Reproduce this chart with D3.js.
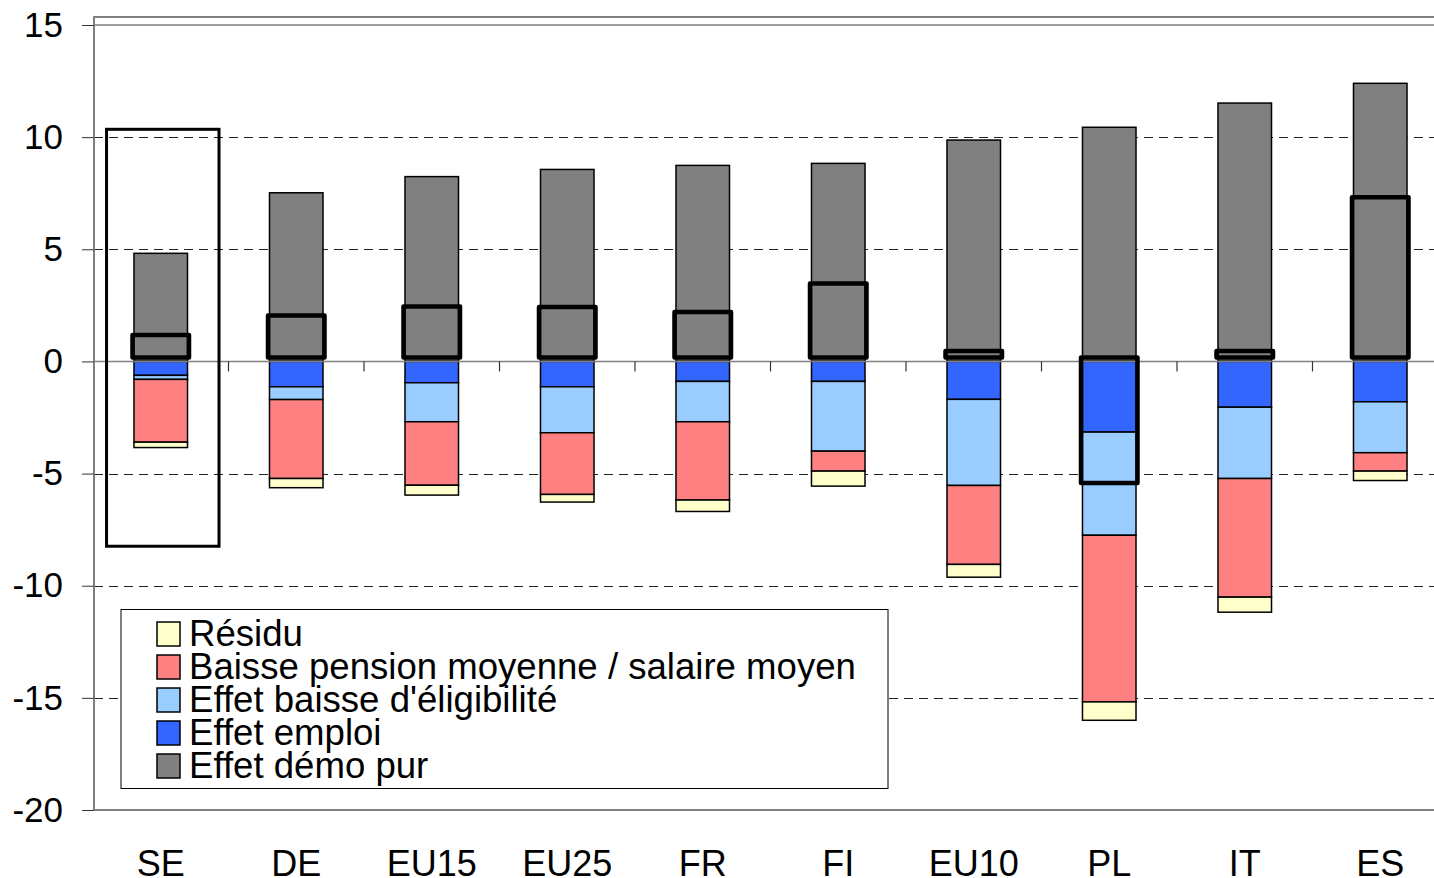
<!DOCTYPE html>
<html>
<head>
<meta charset="utf-8">
<script src="https://cdn.jsdelivr.net/npm/d3@7"></script>
<style>
  body { margin: 0; background: #fff; }
  svg { display: block; font-family: "Liberation Sans", Arial, sans-serif; }
</style>
</head>
<body>
<script>
// Data
var countries = ["SE", "DE", "EU15", "EU25", "FR", "FI", "EU10", "PL", "IT", "ES"];
var demo      = [4.82, 7.52, 8.24, 8.56, 8.74, 8.83, 9.87, 10.44, 11.52, 12.4];
var emploi    = [-0.62, -1.13, -0.95, -1.13, -0.89, -0.89, -1.69, -3.15, -2.04, -1.8];
var eligib    = [-0.18, -0.57, -1.74, -2.05, -1.8, -3.11, -3.84, -4.6, -3.18, -2.27];
var pension   = [-2.8, -3.52, -2.83, -2.75, -3.49, -0.89, -3.52, -7.43, -5.29, -0.82];
var residu    = [-0.24, -0.41, -0.44, -0.34, -0.51, -0.67, -0.57, -0.82, -0.67, -0.42];
// thick outlined bars (no fill)
var total     = [1.0, 1.87, 2.27, 2.25, 2.03, 3.3, 0.29, -5.6, 0.29, 7.14];
// highlight frame around SE
var highlight = { country: "SE", low: -8.24, high: 10.35 };
var yTicks = [-20, -15, -10, -5, 0, 5, 10, 15];

var legendItems = [
  { key: "residu",  label: "Résidu" },
  { key: "pension", label: "Baisse pension moyenne / salaire moyen" },
  { key: "eligib",  label: "Effet baisse d'éligibilité" },
  { key: "emploi",  label: "Effet emploi" },
  { key: "demo",    label: "Effet démo pur" }
];
var colors = {
  demo: "#808080", emploi: "#3366FF", eligib: "#99CCFF",
  pension: "#FF8080", residu: "#FFFFCC"
};

var W = 1434, H = 878;
var plotLeft = 94, plotTop = 17, plotBottom = 810;

var svg = d3.select("body").append("svg")
    .attr("width", W)
    .attr("height", H);

// Scales
var x = d3.scaleBand().domain(countries).range([93, 1448]);
var y = d3.scaleLinear().domain([-20, 15]).range([810, 25]);
var barW = x.bandwidth() * 0.395;

// Gridlines
svg.append("g").selectAll("line")
    .data(yTicks.filter(function (d) { return d !== 0 && d !== -20 && d !== 15; }))
    .join("line")
    .attr("x1", plotLeft).attr("x2", W)
    .attr("y1", function (d) { return Math.round(y(d)) + 0.5; })
    .attr("y2", function (d) { return Math.round(y(d)) + 0.5; })
    .attr("stroke", "#222")
    .attr("stroke-width", 1)
    .attr("stroke-dasharray", "9,6");

// solid line at top value
svg.append("line")
    .attr("x1", plotLeft).attr("x2", W)
    .attr("y1", y(15)).attr("y2", y(15))
    .attr("stroke", "#808080").attr("stroke-width", 1.5);

// Plot frame
svg.append("path")
    .attr("d", "M" + W + "," + plotTop + "H" + plotLeft + "V" + plotBottom + "H" + W)
    .attr("fill", "none")
    .attr("stroke", "#808080")
    .attr("stroke-width", 2);

// Stack
var rows = countries.map(function (c, i) {
  return { country: c, demo: demo[i], emploi: emploi[i], eligib: eligib[i],
           pension: pension[i], residu: residu[i] };
});
var stack = d3.stack()
    .keys(["demo", "emploi", "eligib", "pension", "residu"])
    .offset(d3.stackOffsetDiverging);
var series = stack(rows);

svg.append("g").selectAll("g")
    .data(series)
    .join("g")
    .attr("fill", function (s) { return colors[s.key]; })
    .selectAll("rect")
    .data(function (s) { return s; })
    .join("rect")
    .attr("x", function (d) { return x(d.data.country) + x.bandwidth() / 2 - barW / 2; })
    .attr("width", barW)
    .attr("y", function (d) { return y(Math.max(d[0], d[1])); })
    .attr("height", function (d) { return Math.abs(y(d[0]) - y(d[1])); })
    .attr("stroke", "#000")
    .attr("stroke-width", 1.5);

// Zero line with boundary ticks
svg.append("line")
    .attr("x1", plotLeft).attr("x2", W)
    .attr("y1", y(0)).attr("y2", y(0))
    .attr("stroke", "#808080").attr("stroke-width", 1.5);
svg.append("g").selectAll("line")
    .data(countries.slice(1))
    .join("line")
    .attr("x1", function (d) { return x(d); })
    .attr("x2", function (d) { return x(d); })
    .attr("y1", y(0)).attr("y2", y(0) + 10)
    .attr("stroke", "#333").attr("stroke-width", 1.2);

// Thick outlined bars
var boxW = barW + 3;
svg.append("g").attr("transform", "translate(0,-4)")
    .selectAll("rect")
    .data(countries)
    .join("rect")
    .attr("x", function (d) { return x(d) + x.bandwidth() / 2 - boxW / 2; })
    .attr("width", boxW)
    .attr("y", function (d, i) { return y(Math.max(0, total[i])); })
    .attr("height", function (d, i) { return Math.abs(y(total[i]) - y(0)); })
    .attr("fill", "none")
    .attr("stroke", "#000")
    .attr("stroke-width", 4.5)
    .attr("stroke-linejoin", "round");

// SE highlight frame
svg.append("rect")
    .attr("x", x(highlight.country) + x.bandwidth() * 0.1)
    .attr("width", x.bandwidth() * 0.83)
    .attr("y", y(highlight.high))
    .attr("height", y(highlight.low) - y(highlight.high))
    .attr("fill", "none")
    .attr("stroke", "#000")
    .attr("stroke-width", 3);

// Y axis
var yAxis = svg.append("g")
    .attr("transform", "translate(" + plotLeft + ",0)")
    .call(d3.axisLeft(y).tickValues(yTicks).tickFormat(String).tickSize(12).tickPadding(19));
yAxis.select(".domain").remove();
yAxis.selectAll("line").attr("stroke", "#333");
yAxis.selectAll("text").style("font-size", "35px").attr("fill", "#000")
    .attr("font-family", "Liberation Sans, Arial, sans-serif");

// X labels
var xAxis = svg.append("g")
    .attr("transform", "translate(0," + plotBottom + ")")
    .call(d3.axisBottom(x).tickSize(0).tickPadding(40));
xAxis.select(".domain").remove();
xAxis.selectAll("text").style("font-size", "36px").attr("fill", "#000")
    .attr("font-family", "Liberation Sans, Arial, sans-serif");

// Legend
var lg = svg.append("g");
lg.append("rect")
    .attr("x", 121).attr("y", 609.5)
    .attr("width", 767).attr("height", 179)
    .attr("fill", "#fff")
    .attr("stroke", "#000")
    .attr("stroke-width", 1);
var li = lg.selectAll("g.item")
    .data(legendItems)
    .join("g")
    .attr("class", "item")
    .attr("transform", function (d, i) { return "translate(157," + (622 + i * 33) + ")"; });
li.append("rect")
    .attr("width", 23).attr("height", 24)
    .attr("fill", function (d) { return colors[d.key]; })
    .attr("stroke", "#000").attr("stroke-width", 1.5);
li.append("text")
    .attr("x", 32).attr("y", 23.5)
    .style("font-size", "36.6px")
    .text(function (d) { return d.label; });
</script>
</body>
</html>
